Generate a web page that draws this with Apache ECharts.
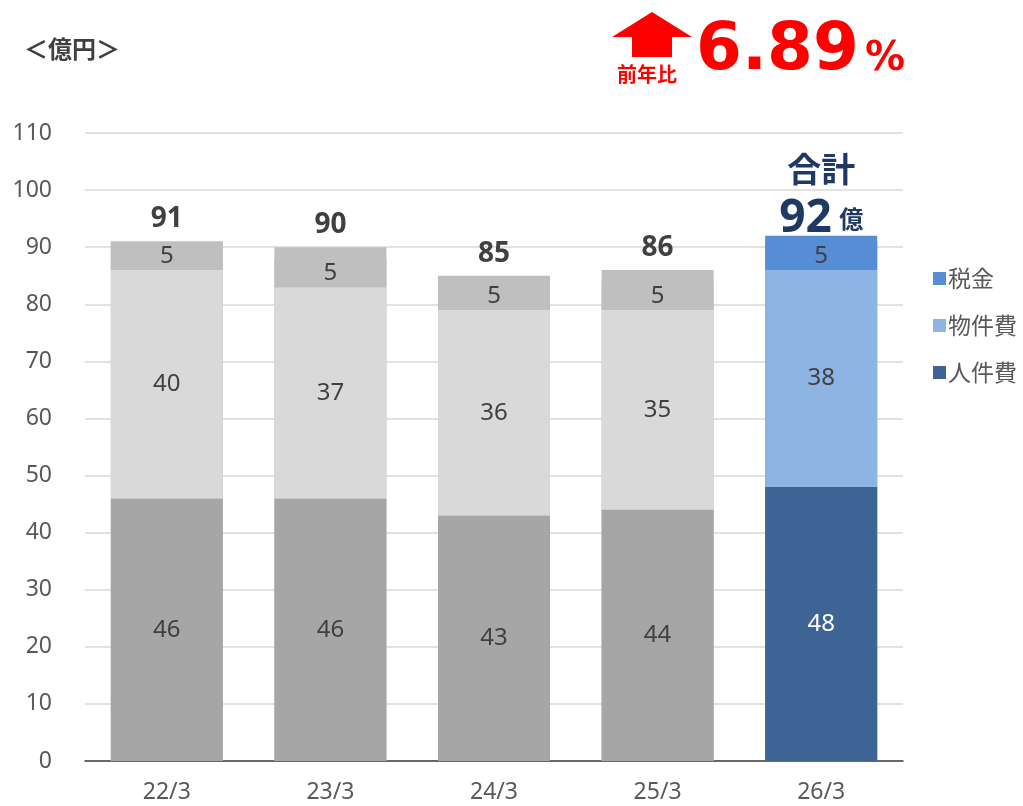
<!DOCTYPE html>
<html><head><meta charset="utf-8">
<script src="https://cdn.jsdelivr.net/npm/echarts@6/dist/echarts.min.js"></script>
<style>html,body{margin:0;padding:0;background:#fff}#c{width:1023px;height:806px}</style>
</head><body><div id="c"></div>
<script>
const categories = ['22/3','23/3','24/3','25/3','26/3'];
const personnel = [46, 46, 43, 44, 48];   // 人件費
const goods     = [40, 37, 36, 35, 38];   // 物件費
const tax       = [5, 5, 5, 5, 5];        // 税金
const totals    = [91, 90, 85, 86, 92];   // 合計 (bar height incl. rounding)
const yoy = '6.89';

const grayBottom='#A6A6A6', grayMid='#D9D9D9', grayTop='#BFBFBF';
const cPers='#3E6496', cGoods='#8EB4E3', cTax='#558ED5';
const last = categories.length-1;
const font = '"Noto Sans","Noto Sans CJK JP",sans-serif';
const cjk = '"Noto Sans CJK JP",sans-serif';

function mk(vals, colors, label){
  return vals.map((v,i)=>({value:v, itemStyle:{color: colors[i===last?1:0]}, label: label?label(i):undefined}));
}
const chart = echarts.init(document.getElementById('c'));
chart.setOption({
  animation:false,
  textStyle:{fontFamily:font},
  grid:{left:85,right:120,top:133,bottom:45},
  legend:{
    orient:'vertical', left:928, top:262, itemGap:25, itemWidth:13, itemHeight:13, itemGap:24, icon:'rect',
    textStyle:{fontSize:23,color:'#595959',fontFamily:cjk,padding:[0,0,0,-3]},
    data:[{name:'税金'},{name:'物件費'},{name:'人件費'}]
  },
  xAxis:{type:'category',data:categories,
    axisLine:{lineStyle:{color:'#404040',width:1.5}},axisTick:{show:false},
    axisLabel:{fontSize:23,color:'#595959',margin:20}},
  yAxis:{type:'value',min:0,max:110,interval:10,
    axisLine:{show:false},axisTick:{show:false},
    splitLine:{lineStyle:{color:'#D9D9D9',width:1.5}},
    axisLabel:{fontSize:23,color:'#595959',margin:33}},
  series:[
    {name:'合計',type:'bar',barWidth:112,barGap:'-100%',
     data:totals.map((v,i)=>({value:v,itemStyle:{color:i===last?cTax:grayTop},
       label:{show:true,position:'top',distance:i===last?0:8,offset:i===last?[0,9]:[0,0],
         formatter: i===last? '{a|合計}\n{b|'+v+'} {c|億}' : String(v),
         rich: i===last? {
           a:{fontSize:34,fontWeight:'bold',color:'#1F3864',lineHeight:48,fontFamily:cjk},
           b:{fontSize:46,fontWeight:'bold',color:'#1F3864',lineHeight:52,fontFamily:font},
           c:{fontSize:24,color:'#1F3864',lineHeight:52,fontFamily:cjk}
         }:undefined,
         fontSize:28,fontWeight:'bold',color:'#404040'}}))},
    {name:'人件費',type:'bar',stack:'s',barWidth:112,barGap:'-100%',itemStyle:{color:cPers},
     data:mk(personnel,[grayBottom,cPers],i=>({color:i===last?'#fff':'#404040'})),
     label:{show:true,position:'inside',fontSize:24}},
    {name:'物件費',type:'bar',stack:'s',itemStyle:{color:cGoods},
     data:mk(goods,[grayMid,cGoods]),
     label:{show:true,position:'inside',fontSize:24,color:'#404040'}},
    {name:'税金',type:'bar',stack:'s',itemStyle:{color:cTax},
     data:mk(tax,[grayTop,cTax]),
     label:{show:true,position:'inside',fontSize:24,color:'#404040'}}
  ],
  graphic:[
    {type:'text',left:24,top:37,style:{text:'＜億円＞',fill:'#404040',font:'bold 24px "Noto Sans CJK JP",sans-serif'}},
    {type:'polygon',shape:{points:[[652,12],[692,37],[672,37],[672,57],[632,57],[632,37],[612,37]]},style:{fill:'#FF0000'}},
    {type:'text',x:647,y:74,style:{text:'前年比',fill:'#FF0000',align:'center',verticalAlign:'middle',font:'bold 20px "Noto Sans CJK JP",sans-serif'}},
    {type:'text',x:696,y:52,style:{text:yoy,fill:'#FF0000',verticalAlign:'middle',font:'bold 66px "DejaVu Sans",sans-serif'}},
    {type:'text',x:865,y:60,style:{text:'%',fill:'#FF0000',verticalAlign:'middle',font:'bold 40px "DejaVu Sans",sans-serif'}}
  ]
});
</script></body></html>
